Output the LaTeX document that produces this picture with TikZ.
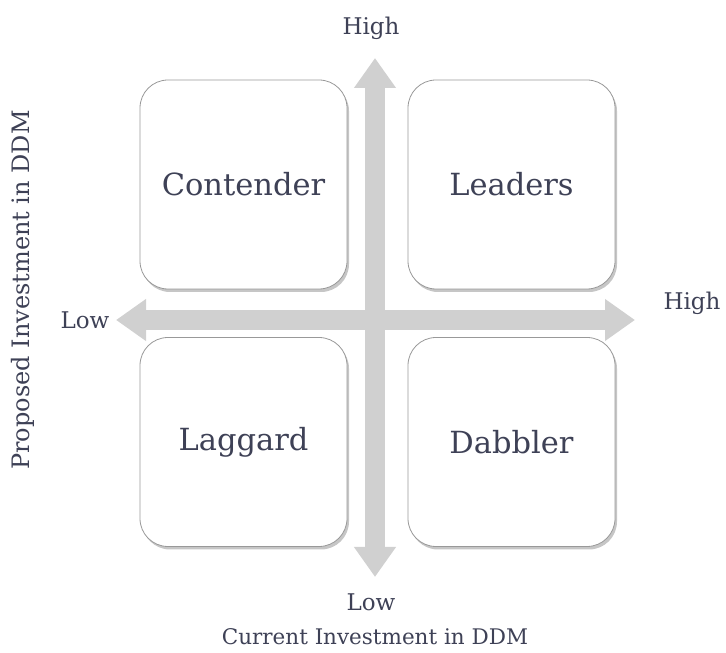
\documentclass[tikz,border=0pt]{standalone}
\usepackage{fontspec}
\setmainfont{DejaVu Serif}
\usetikzlibrary{arrows.meta,shadows}
\definecolor{ink}{HTML}{3E4156}
\definecolor{axisgray}{HTML}{D0D0D0}
\begin{document}
\begin{tikzpicture}[
  x=1pt, y=1pt,
  quad/.style={
    draw=gray!80, fill=white, line width=0.8pt,
    minimum width=207pt, minimum height=209pt,
    rounded corners=28pt, inner sep=0pt,
    font=\fontsize{30.5}{36}\selectfont, text=ink,
    drop shadow={shadow xshift=2pt, shadow yshift=-3pt, opacity=0.45, fill=gray},
  },
  axis/.style={
    draw=axisgray, line width=20pt,
    {Triangle[width=40pt,length=30pt]}-{Triangle[width=40pt,length=30pt]},
  },
  tick/.style={font=\fontsize{23}{27}\selectfont, text=ink, inner sep=0pt},
  title/.style={font=\fontsize{21.5}{26}\selectfont, text=ink, inner sep=0pt},
]

% page frame 726 x 653
\useasboundingbox (0,0) rectangle (726,653);

% axis end points
\coordinate (ytop) at (375,595);
\coordinate (ybot) at (375,76);
\coordinate (xleft) at (116,333);
\coordinate (xright) at (635,333);

% axes (drawn first, boxes sit over them)
\draw[axis] (ybot) -- (ytop);
\draw[axis] (xleft) -- (xright);

% quadrants
\node[quad] (contender) at (243.5,468.5) {Contender};
\node[quad] (leaders)   at (511.5,468.5) {Leaders};
\node[quad] (laggard)   at (243.5,211)   {Laggard};
\node[quad] (dabbler)   at (511.5,211)   {Dabbler};

% axis ends
\node[tick] (yhigh) at (371,625) {High};
\node[tick] (ylow)  at (371,51)  {Low};
\node[tick] (xlow)  at (85,333)  {Low};
\node[tick] (xhigh) at (692,350) {High};

% axis titles
\node[title] (xtitle) at (375,16) {Current Investment in DDM};
\node[title, rotate=90, font=\fontsize{24}{28}\selectfont] (ytitle) at (23,363) {Proposed Investment in DDM};

\end{tikzpicture}
\end{document}
